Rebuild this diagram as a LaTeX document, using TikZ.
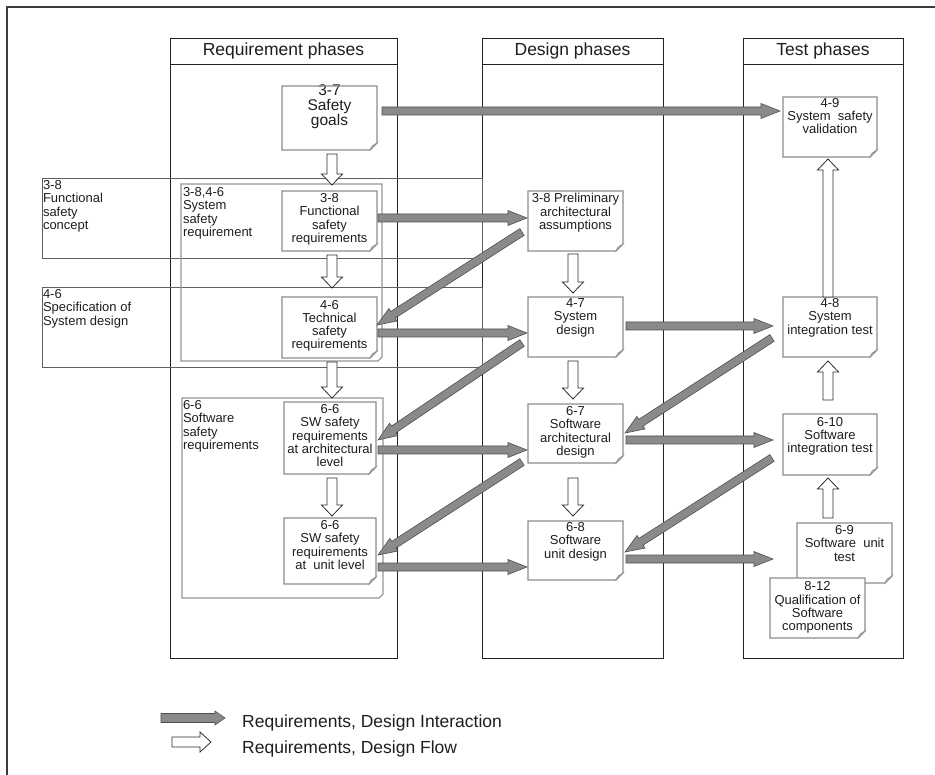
\documentclass[tikz,border=0pt]{standalone}
\usepackage{fontspec}
\setmainfont{Liberation Sans}
\usetikzlibrary{calc}

\definecolor{ink}{RGB}{30,30,30}
\definecolor{frameline}{RGB}{60,60,60}
\definecolor{colline}{RGB}{35,35,35}
\definecolor{bandline}{RGB}{95,95,95}
\definecolor{docline}{RGB}{140,140,140}
\definecolor{grpline}{RGB}{150,150,150}
\definecolor{flapfill}{RGB}{205,205,205}
\definecolor{ifill}{RGB}{138,138,138}
\definecolor{iline}{RGB}{80,80,80}
\definecolor{fline}{RGB}{45,45,45}

\tikzset{
  % block arrow between two points: half shaft width, half head width, head length
  blockshape/.style n args={3}{to path={let \p1=(\tikztostart), \p2=(\tikztotarget),
      \n1={atan2(\y2-\y1,\x2-\x1)} in
      ($(\p1)+(\n1+90:#1)$) -- ($(\p2)+(\n1+180:#3)+(\n1+90:#1)$)
      -- ($(\p2)+(\n1+180:#3)+(\n1+90:#2)$) -- (\p2)
      -- ($(\p2)+(\n1+180:#3)+(\n1-90:#2)$) -- ($(\p2)+(\n1+180:#3)+(\n1-90:#1)$)
      -- ($(\p1)+(\n1-90:#1)$) -- cycle}},
  interaction/.style={blockshape={4pt}{7.5pt}{19pt}, fill=ifill, draw=iline, line width=0.6pt},
  flow/.style={blockshape={5pt}{10.5pt}{11pt}, fill=white, draw=fline, line width=0.8pt},
  docbox/.style={inner sep=0pt, outer sep=0pt, fill=white, text=ink,
    font=\fontsize{13}{13.3}\selectfont},
  grpbox/.style={inner sep=0pt, outer sep=0pt},
  grouplabel/.style={inner sep=0pt, outer sep=0pt, align=left, text=ink,
    font=\fontsize{13}{13.3}\selectfont},
  colhead/.style={draw=colline, line width=0.9pt, fill=white, inner sep=0pt, text=ink,
    font=\fontsize{17.5}{20}\selectfont},
  colbody/.style={draw=colline, line width=0.9pt, fill=white, inner sep=0pt},
  band/.style={draw=bandline, line width=0.8pt, inner sep=0pt},
  legendtext/.style={inner sep=0pt, text=ink, font=\fontsize{17.5}{20}\selectfont},
}

% outline of a document box with a folded lower right corner
\newcommand\docframe[1]{%
  \draw[line width=1.1pt, draw=docline] (#1.north west) -- (#1.north east)
    -- ([shift={(0,-7)}]#1.south east) -- ([shift={(-7,0)}]#1.south east)
    -- (#1.south west) -- cycle;
  \filldraw[line width=0.6pt, draw=docline, fill=flapfill]
    ([shift={(-7,0)}]#1.south east) -- ([shift={(0,-7)}]#1.south east)
    -- ([shift={(-5,-4)}]#1.south east) -- cycle;}

\newcommand\grpframe[1]{%
  \draw[line width=1.3pt, draw=grpline] (#1.north west) -- (#1.north east)
    -- ([shift={(0,-4)}]#1.south east) -- ([shift={(-4,0)}]#1.south east)
    -- (#1.south west) -- cycle;}

% name, x, y, width, height, top gap, text
\newcommand\docnode[7]{%
  \node[docbox] (#1) at (#2,#3) {\parbox[c][#5pt][t]{#4pt}{\centering\vskip#6\relax #7}};
  \docframe{#1}}

\begin{document}
\begin{tikzpicture}[x=1pt,y=-1pt]
\useasboundingbox (0,0) rectangle (935,775);

% page frame
\draw[frameline, line width=1.2pt] (7,775) -- (7,7) -- (935,7);

% phase columns
\node[colbody, minimum width=227pt, minimum height=594pt] (reqcol) at (283.5,361) {};
\node[colhead, minimum width=227pt, minimum height=26pt] (reqhead) at (283.5,51) {Requirement phases};
\node[colbody, minimum width=181pt, minimum height=594pt] (descol) at (572.5,361) {};
\node[colhead, minimum width=181pt, minimum height=26pt] (deshead) at (572.5,51) {Design phases};
\node[colbody, minimum width=160pt, minimum height=594pt] (tstcol) at (823,361) {};
\node[colhead, minimum width=160pt, minimum height=26pt] (tsthead) at (823,51) {Test phases};

% clause bands
\node[band, minimum width=440pt, minimum height=80pt] (fsc) at (262,218) {};
\node[grouplabel, anchor=north west] (fsclbl) at (43,180.5) {3-8\\Functional\\safety\\concept};
\node[band, minimum width=440pt, minimum height=80pt] (ssd) at (262,327) {};
\node[grouplabel, anchor=north west] (ssdlbl) at (43,289.5) {4-6\\Specification of\\System design};

% requirement groups
\node[grpbox, minimum width=201pt, minimum height=177pt] (sysreq) at (281.5,272.5) {};
\grpframe{sysreq}
\node[grouplabel, anchor=north west] (sysreqlbl) at (183,187.5) {3-8,4-6\\System\\safety\\requirement};
\node[grpbox, minimum width=201pt, minimum height=200pt] (swreq) at (282.5,498) {};
\grpframe{swreq}
\node[grouplabel, anchor=north west] (swreqlbl) at (183,400.5) {6-6\\Software\\safety\\requirements};

% work products
\docnode{sg}{329.5}{118}{95}{64}{-1.5pt}{\fontsize{15.5}{15}\selectfont 3-7\\Safety\\goals}
\docnode{fsr}{329.5}{221}{95}{60}{2.5pt}{3-8\\Functional\\safety\\requirements}
\docnode{tsr}{329.5}{327.5}{95}{61}{3pt}{4-6\\Technical\\safety\\requirements}
\docnode{swar}{330}{438}{92}{72}{2.5pt}{6-6\\SW safety\\requirements\\at architectural\\level}
\docnode{swur}{330}{551}{92}{66}{2.5pt}{6-6\\SW safety\\requirements\\at\ \ unit level}
\docnode{pre}{575.5}{221}{95}{60}{2.5pt}{3-8 Preliminary\\architectural\\assumptions}
\docnode{sd}{575.5}{327}{95}{60}{1.5pt}{4-7\\System\\design}
\docnode{sad}{575.5}{433.5}{95}{59}{2.5pt}{6-7\\Software\\architectural\\design}
\docnode{sud}{575.5}{550.5}{95}{59}{1.5pt}{6-8\\Software\\unit design}
\docnode{val}{830}{127}{94}{60}{1pt}{4-9\\System\ \ safety\\validation}
\docnode{sit}{830}{327}{94}{60}{1.5pt}{4-8\\System\\integration test}
\docnode{swit}{830}{444.5}{94}{61}{3.3pt}{6-10\\Software\\integration test}
\docnode{swut}{844.5}{553}{95}{60}{2.5pt}{6-9\\Software\ \ unit\\test}
\docnode{qual}{817.5}{608}{95}{60}{3.7pt}{8-12\\Qualification of\\Software\\components}

% design flow
\path[flow] ([shift={(2.5,4)}]sg.south) to ([shift={(50.5,1)}]sysreq.north);
\path[flow] ([shift={(2.5,4)}]fsr.south) to ([shift={(2.5,-9)}]tsr.north);
\path[flow] ([shift={(2.5,4)}]tsr.south) to ([shift={(49.5,0)}]swreq.north);
\path[flow] ([shift={(2,4)}]swar.south) to ([shift={(2,-2)}]swur.north);
\path[flow] ([shift={(-2.5,3)}]pre.south) to ([shift={(-2.5,-4)}]sd.north);
\path[flow] ([shift={(-2.5,4)}]sd.south) to ([shift={(-2.5,-5)}]sad.north);
\path[flow] ([shift={(-2.5,15)}]sad.south) to ([shift={(-2.5,-5)}]sud.north);
\path[flow] ([shift={(-2,0)}]sit.north) to ([shift={(-2,2)}]val.south);
\path[flow] ([shift={(-2,-14)}]swit.north) to ([shift={(-2,4)}]sit.south);
\path[flow] ([shift={(-16.5,-5)}]swut.north) to ([shift={(-2,3)}]swit.south);

% requirements / design interaction
\path[interaction] ([shift={(5,-7)}]sg.east) to ([shift={(-3,-16)}]val.west);
\path[interaction] ([shift={(1,-3)}]fsr.east) to ([shift={(-1,-3)}]pre.west);
\path[interaction] ([shift={(1,5.5)}]tsr.east) to ([shift={(-1,6)}]sd.west);
\path[interaction] ([shift={(2,12)}]swar.east) to ([shift={(-1,16.5)}]sad.west);
\path[interaction] ([shift={(2,16)}]swur.east) to ([shift={(-1,16.5)}]sud.west);
\path[interaction] ([shift={(3,-1)}]sd.east) to ([shift={(-10,-1)}]sit.west);
\path[interaction] ([shift={(3,6.5)}]sad.east) to ([shift={(-10,-4.5)}]swit.west);
\path[interaction] ([shift={(3,8.5)}]sud.east) to ([shift={(-24,6)}]swut.west);
\path[interaction] ([shift={(-6,11)}]pre.west) to ([shift={(0,-2.5)}]tsr.east);
\path[interaction] ([shift={(-6,16)}]sd.west) to ([shift={(2,2)}]swar.east);
\path[interaction] ([shift={(-6,28.5)}]sad.west) to ([shift={(2,4)}]swur.east);
\path[interaction] ([shift={(-11,11)}]sit.west) to ([shift={(2,-0.5)}]sad.east);
\path[interaction] ([shift={(-11,13.5)}]swit.west) to ([shift={(2,1.5)}]sud.east);

% legend
\coordinate (lgia) at (161,718);
\coordinate (lgib) at (225,718);
\coordinate (lgfa) at (172,742);
\coordinate (lgfb) at (211,742);
\path[blockshape={4.5pt}{7pt}{10pt}, fill=ifill, draw=iline, line width=0.6pt] (lgia) to (lgib);
\path[blockshape={5pt}{10pt}{11pt}, fill=white, draw=fline, line width=0.8pt] (lgfa) to (lgfb);
\node[legendtext, anchor=base west] (lgit) at (242,727) {Requirements, Design Interaction};
\node[legendtext, anchor=base west] (lgft) at (242,753) {Requirements, Design Flow};
\end{tikzpicture}
\end{document}
